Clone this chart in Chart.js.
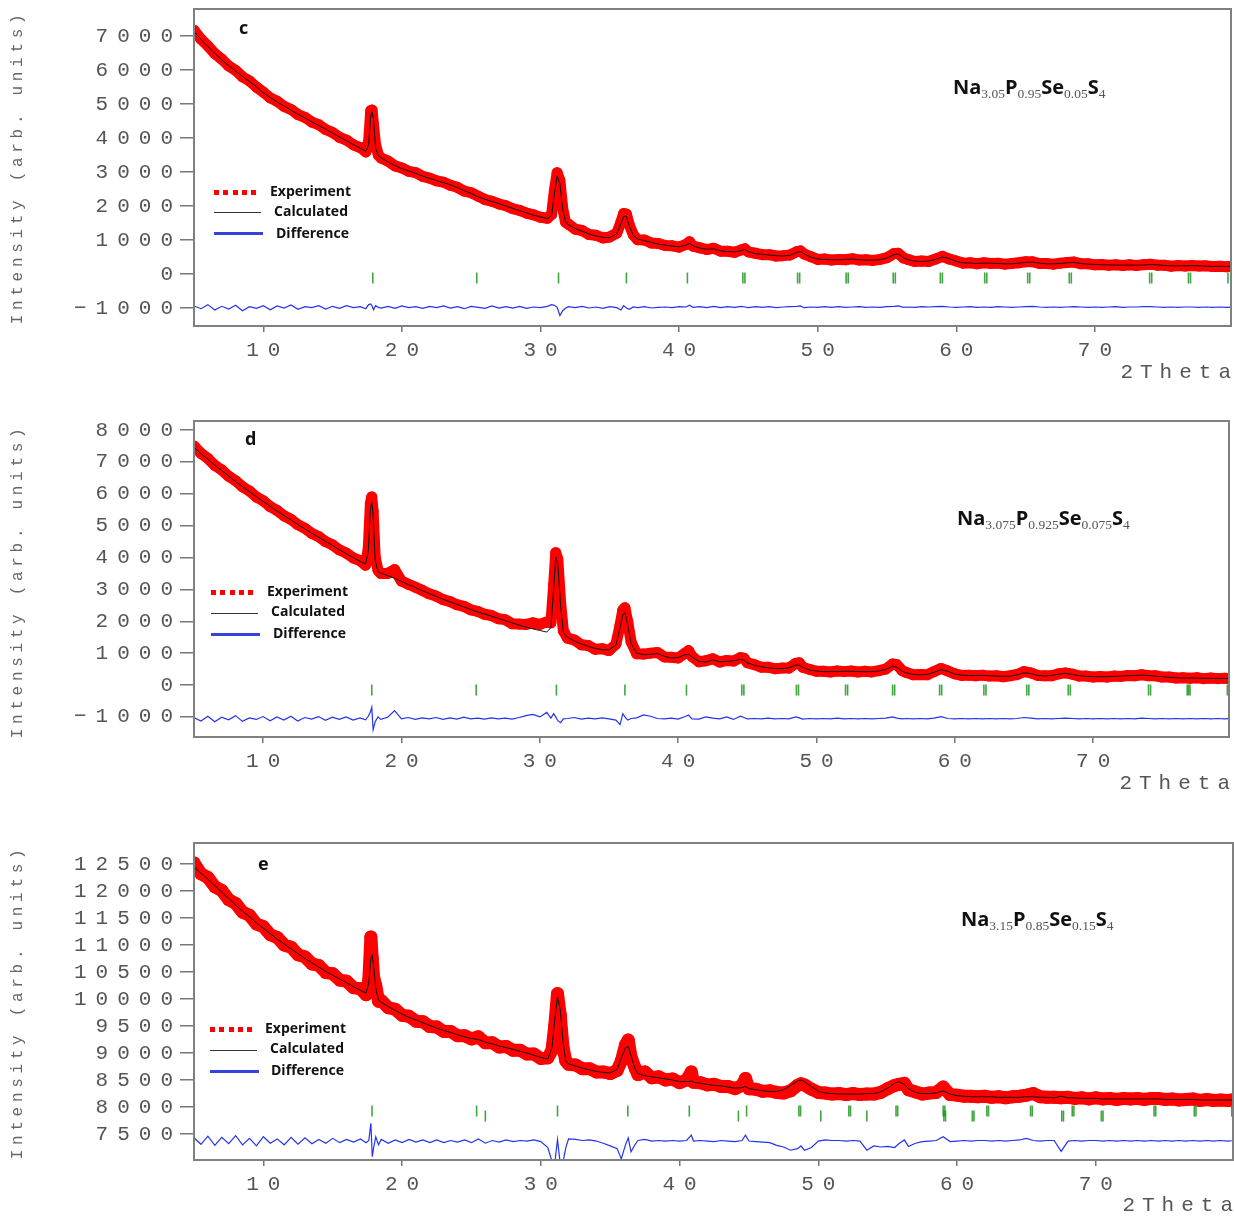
<!DOCTYPE html>
<html><head><meta charset="utf-8">
<script src="https://cdn.jsdelivr.net/npm/chart.js@4.4.1/dist/chart.umd.min.js"></script>
<style>
body{margin:0;background:#fff;width:1234px;height:1217px;position:relative;overflow:hidden}
canvas{position:absolute;left:0}
.a{position:absolute;white-space:nowrap}
.leg{font:bold 14px "Open Sans";color:#111;height:20px;line-height:20px}
.let{font:bold 18px "Open Sans";color:#111;height:24px;line-height:24px}
.frm{font:bold 20px "Open Sans";color:#111;height:26px;line-height:26px}
.frm sub{font:13.5px "Liberation Serif";color:#555;vertical-align:-4px;font-weight:normal}
.yt{font:16px "Liberation Mono";color:#666;letter-spacing:4.7px;transform:translate(-50%,-50%) rotate(-90deg);height:20px;line-height:20px}
.xt{font:21px "Liberation Mono";color:#555;letter-spacing:7px;height:26px;line-height:26px;text-align:right;width:200px}
.dots{height:5px;background:repeating-linear-gradient(90deg,#f00 0 5px,transparent 5px 9.3px)}
.cl{height:1px;background:#333}
.dl{height:3px;background:#3344dd}
</style></head><body>
<canvas id="cc" width="1234" height="390" style="top:0"></canvas>
<canvas id="cd" width="1234" height="390" style="top:410px"></canvas>
<canvas id="ce" width="1234" height="385" style="top:832px"></canvas>

<div class="a yt" style="left:18px;top:167px">Intensity (arb. units)</div>
<div class="a yt" style="left:18px;top:581px">Intensity (arb. units)</div>
<div class="a yt" style="left:18px;top:1002px">Intensity (arb. units)</div>
<div class="a xt" style="left:1038px;top:360px">2Theta</div>
<div class="a xt" style="left:1037px;top:771px">2Theta</div>
<div class="a xt" style="left:1040px;top:1193px">2Theta</div>

<div class="a let" style="left:239px;top:15px">c</div>
<div class="a let" style="left:245px;top:426px">d</div>
<div class="a let" style="left:258px;top:851px">e</div>

<div class="a frm" style="left:953px;top:74px">Na<sub>3.05</sub>P<sub>0.95</sub>Se<sub>0.05</sub>S<sub>4</sub></div>
<div class="a frm" style="left:957px;top:505px">Na<sub>3.075</sub>P<sub>0.925</sub>Se<sub>0.075</sub>S<sub>4</sub></div>
<div class="a frm" style="left:961px;top:906px">Na<sub>3.15</sub>P<sub>0.85</sub>Se<sub>0.15</sub>S<sub>4</sub></div>

<div class="a dots" style="left:214px;top:190px;width:44px"></div>
<div class="a leg" style="left:270px;top:181px">Experiment</div>
<div class="a cl" style="left:214px;top:212px;width:47px"></div>
<div class="a leg" style="left:274px;top:201px">Calculated</div>
<div class="a dl" style="left:214px;top:232px;width:49px"></div>
<div class="a leg" style="left:276px;top:223px">Difference</div>

<div class="a dots" style="left:211px;top:590px;width:44px"></div>
<div class="a leg" style="left:267px;top:581px">Experiment</div>
<div class="a cl" style="left:211px;top:613px;width:47px"></div>
<div class="a leg" style="left:271px;top:601px">Calculated</div>
<div class="a dl" style="left:211px;top:633px;width:49px"></div>
<div class="a leg" style="left:273px;top:623px">Difference</div>

<div class="a dots" style="left:210px;top:1027px;width:44px"></div>
<div class="a leg" style="left:265px;top:1018px">Experiment</div>
<div class="a cl" style="left:210px;top:1050px;width:47px"></div>
<div class="a leg" style="left:270px;top:1038px">Calculated</div>
<div class="a dl" style="left:210px;top:1070px;width:49px"></div>
<div class="a leg" style="left:271px;top:1060px">Difference</div>

<script>
// ---------- Panel c : Na3.05P0.95Se0.05S4 ----------
const cTheta = [
5,5.5,6,6.5,7,7.5,8,8.5,9,9.5,
10,10.5,11,11.5,12,12.5,13,13.5,14,14.5,
15,15.5,16,16.5,17,17.4,17.6,17.75,17.85,17.95,
18.1,18.3,18.5,19,19.5,20,20.5,21,21.5,22,
22.5,23,23.5,24,24.5,25,25.5,26,26.5,27,
27.5,28,28.5,29,29.5,30,30.5,30.8,31,31.2,
31.4,31.6,31.8,32,32.5,33,33.5,34,34.5,35,
35.5,35.8,36,36.2,36.4,36.7,37,37.5,38,38.5,
39,39.5,40,40.5,40.75,41,41.5,42,42.5,43,
43.5,44,44.5,44.75,45,45.5,46,46.5,47,47.5,
48,48.5,48.75,49,49.5,50,50.5,51,51.5,52,
52.5,53,53.5,54,54.5,55,55.5,55.8,56.2,56.5,
57,57.5,58,58.5,59,59.5,60,60.5,61,61.5,
62,62.5,63,63.5,64,64.5,65,65.5,66,66.5,
67,67.5,68,68.5,69,69.5,70,70.5,71,71.5,
72,72.5,73,73.5,74,74.5,75,75.5,76,76.5,
77,77.5,78,78.5,79,79.5,79.8];
const cObs = [
7170,6910,6710,6480,6320,6120,5990,5800,5680,5500,
5350,5180,5080,4930,4840,4690,4610,4470,4390,4250,
4160,4020,3940,3800,3720,3590,3900,4800,4820,4400,
3800,3500,3410,3320,3180,3120,3020,2980,2870,2820,
2740,2700,2610,2550,2440,2390,2290,2190,2140,2060,
2010,1920,1870,1790,1740,1670,1640,1750,2450,2980,
2750,1950,1530,1470,1320,1280,1160,1140,1060,1090,
1200,1520,1780,1760,1450,1150,1010,1000,910,900,
840,830,790,870,950,820,770,720,760,670,
670,640,710,740,650,610,570,570,530,540,
560,660,680,590,510,430,440,410,430,420,
450,410,420,400,430,480,600,610,470,430,
370,380,370,440,520,440,380,320,330,300,
330,310,320,290,310,330,360,360,310,310,
290,320,340,350,300,300,270,280,260,270,
250,270,250,275,290,260,260,230,250,235,
250,235,240,220,230,215,225];
const cCalc = [
7130,6900,6690,6490,6300,6130,5970,5810,5660,5510,
5330,5190,5060,4940,4820,4700,4590,4480,4370,4260,
4140,4030,3920,3810,3700,3610,3800,4650,4770,4550,
3700,3480,3420,3300,3190,3100,3030,2960,2880,2810,
2750,2690,2620,2540,2450,2370,2270,2200,2130,2070,
2000,1930,1860,1800,1730,1680,1630,1720,2350,2880,
2650,1900,1560,1450,1340,1260,1180,1120,1080,1070,
1180,1480,1690,1700,1420,1130,1030,980,930,880,
850,820,800,850,900,830,760,730,740,680,
660,650,690,720,660,600,580,560,540,530,
550,640,660,600,500,440,430,420,420,430,
440,420,410,410,420,470,570,590,480,420,
380,370,380,430,500,450,370,330,320,310,
320,320,310,300,300,320,340,350,320,300,
300,310,330,340,310,290,280,270,270,260,
260,260,260,265,280,270,250,240,240,240,
245,240,230,225,225,220,220];
const cDiff = [
-940,-1020,-900,-1060,-950,-1030,-920,-1080,-960,-1010,
-930,-1050,-940,-1000,-910,-1040,-960,-990,-930,-1030,
-950,-1010,-930,-990,-960,-1020,-900,-880,-940,-1050,
-930,-980,-1000,-950,-1010,-940,-990,-960,-1010,-950,
-990,-940,-1000,-960,-1020,-950,-980,-1010,-940,-1000,
-960,-1000,-950,-1010,-970,-990,-950,-900,-920,-980,
-1220,-1080,-1010,-960,-990,-950,-1000,-970,-1010,-960,
-990,-1060,-930,-1000,-1040,-970,-990,-960,-1000,-980,
-970,-990,-960,-970,-920,-980,-960,-990,-950,-990,
-960,-980,-950,-970,-990,-960,-980,-960,-990,-970,
-960,-950,-940,-990,-970,-980,-960,-980,-960,-980,
-970,-960,-980,-970,-980,-960,-950,-940,-980,-970,
-980,-960,-970,-960,-950,-970,-980,-970,-960,-980,
-970,-980,-960,-970,-980,-970,-960,-950,-970,-980,
-970,-980,-970,-960,-970,-980,-970,-980,-970,-960,
-980,-970,-970,-960,-960,-970,-980,-970,-980,-970,
-970,-980,-970,-980,-970,-980,-975];
const cHkl = [17.9,25.4,31.3,36.2,40.6,44.6,44.75,48.55,48.7,52.05,52.2,55.45,55.6,58.85,59.0,
62.05,62.2,65.15,65.3,68.15,68.3,73.95,74.1,76.75,76.9,79.6];
const cYTicks = [-1000,0,1000,2000,3000,4000,5000,6000,7000];

// ---------- Panel d : Na3.075P0.925Se0.075S4 ----------
const dTheta = [
5,5.5,6,6.5,7,7.5,8,8.5,9,9.5,
10,10.5,11,11.5,12,12.5,13,13.5,14,14.5,
15,15.5,16,16.5,17,17.4,17.6,17.75,17.85,17.95,
18.1,18.3,18.5,19,19.5,20,20.5,21,21.5,22,
22.5,23,23.5,24,24.5,25,25.5,26,26.5,27,
27.5,28,28.5,29,29.5,30,30.5,30.8,31,31.15,
31.3,31.5,31.7,32,32.5,33,33.5,34,34.5,35,
35.5,35.8,36,36.15,36.35,36.6,37,37.5,38,38.5,
39,39.5,40,40.5,40.75,41,41.5,42,42.5,43,
43.5,44,44.5,44.75,45,45.5,46,46.5,47,47.5,
48,48.5,48.75,49,49.5,50,50.5,51,51.5,52,
52.5,53,53.5,54,54.5,55,55.5,55.8,56.2,56.5,
57,57.5,58,58.5,59,59.5,60,60.5,61,61.5,
62,62.5,63,63.5,64,64.5,65,65.5,66,66.5,
67,67.5,68,68.5,69,69.5,70,70.5,71,71.5,
72,72.5,73,73.5,74,74.5,75,75.5,76,76.5,
77,77.5,78,78.5,79,79.5,79.8];
const dObs = [
7500,7270,7110,6890,6750,6550,6410,6220,6090,5900,
5780,5600,5480,5310,5200,5030,4920,4760,4660,4500,
4400,4240,4140,3990,3900,3760,4300,5700,5900,5450,
4000,3600,3500,3500,3620,3260,3160,3070,2970,2860,
2790,2680,2620,2520,2470,2360,2310,2220,2180,2080,
2050,1920,1910,1900,1950,1900,1980,1950,3150,4150,
3950,2600,1700,1470,1410,1260,1240,1120,1140,1080,
1280,1880,2350,2420,2000,1350,980,970,1000,1020,
880,870,850,1000,1080,900,730,760,820,720,
770,750,860,840,700,640,560,560,510,530,
530,680,700,560,490,430,430,410,440,420,
440,410,430,410,450,500,660,640,450,390,
320,330,320,420,520,440,350,300,310,290,
310,280,290,260,290,330,420,380,300,290,
290,350,380,340,280,280,250,270,250,280,
270,300,290,320,290,290,250,250,220,230,
210,225,200,220,200,215,200];
const dCalc = [
7450,7260,7080,6900,6730,6560,6390,6230,6070,5910,
5760,5610,5460,5320,5180,5040,4900,4770,4640,4510,
4380,4250,4120,4000,3880,3790,4200,5500,5750,5300,
3900,3560,3510,3430,3350,3250,3150,3060,2960,2870,
2780,2690,2610,2530,2450,2370,2290,2230,2160,2090,
2020,1950,1880,1820,1760,1710,1660,1800,3000,4020,
3800,2500,1650,1500,1380,1290,1210,1150,1110,1100,
1250,1800,2200,2270,1900,1300,1000,950,960,990,
900,850,860,950,960,880,740,720,790,730,
740,760,800,780,700,620,570,540,520,510,
540,630,620,560,470,440,420,420,420,430,
430,420,420,420,440,490,590,560,430,380,
330,320,330,400,480,430,340,310,300,300,
300,290,280,270,280,320,380,360,300,280,
300,340,370,330,290,270,260,260,260,270,
280,290,300,310,300,280,260,240,230,220,
220,215,210,210,210,205,205];
const dDiff = [
-1020,-1130,-980,-1150,-1010,-1090,-960,-1140,-1030,-1080,
-990,-1120,-1000,-1100,-980,-1130,-1020,-1070,-990,-1110,
-1010,-1080,-1000,-1100,-1030,-1090,-980,-850,-700,-1400,
-1150,-1000,-1080,-1010,-800,-1060,-1020,-1080,-1030,-1060,
-1020,-1080,-1030,-1070,-1010,-1060,-1040,-1070,-1030,-1060,
-1040,-1070,-1020,-960,-920,-1000,-860,-1040,-900,-1000,
-1120,-1180,-1060,-1050,-1020,-1070,-1040,-1060,-1030,-1060,
-1100,-1240,-900,-1000,-1100,-1050,-1030,-940,-980,-1050,
-1060,-1040,-1070,-990,-940,-1060,-1070,-1000,-1040,-1060,
-1000,-1080,-980,-1020,-1060,-1050,-1060,-1040,-1060,-1050,
-1060,-1000,-1030,-1070,-1050,-1060,-1050,-1060,-1040,-1060,
-1050,-1060,-1050,-1060,-1050,-1040,-1000,-1040,-1060,-1050,
-1060,-1050,-1060,-1040,-990,-1050,-1060,-1050,-1060,-1050,
-1060,-1050,-1060,-1050,-1060,-1050,-1020,-1040,-1060,-1050,
-1060,-1050,-1040,-1050,-1060,-1050,-1060,-1050,-1060,-1050,
-1060,-1050,-1060,-1040,-1050,-1060,-1050,-1060,-1050,-1060,
-1050,-1060,-1050,-1060,-1050,-1060,-1055];
const dHkl = [17.85,25.4,31.2,36.15,40.6,44.6,44.75,48.55,48.7,52.1,52.25,55.5,55.65,58.9,59.05,
62.1,62.25,65.2,65.35,68.2,68.35,74.0,74.15,76.8,76.9,77.0,79.7];
const dYTicks = [-1000,0,1000,2000,3000,4000,5000,6000,7000,8000];

// ---------- Panel e : Na3.15P0.85Se0.15S4 ----------
const eTheta = [
5,5.5,6,6.5,7,7.5,8,8.5,9,9.5,
10,10.5,11,11.5,12,12.5,13,13.5,14,14.5,
15,15.5,16,16.5,17,17.4,17.6,17.75,17.85,17.95,
18.1,18.3,18.5,19,19.5,20,20.5,21,21.5,22,
22.5,23,23.5,24,24.5,25,25.5,26,26.5,27,
27.5,28,28.5,29,29.5,30,30.5,30.8,31,31.2,
31.4,31.6,31.8,32,32.5,33,33.5,34,34.5,35,
35.5,35.8,36.1,36.3,36.5,36.8,37,37.5,38,38.5,
39,39.5,40,40.5,40.85,41,41.5,42,42.5,43,
43.5,44,44.5,44.75,45,45.5,46,46.5,47,47.5,
48,48.5,48.75,49,49.5,50,50.5,51,51.5,52,
52.5,53,53.5,54,54.5,55,55.5,55.8,56.2,56.5,
57,57.5,58,58.5,59,59.5,60,60.5,61,61.5,
62,62.5,63,63.5,64,64.5,65,65.5,66,66.5,
67,67.5,68,68.5,69,69.5,70,70.5,71,71.5,
72,72.5,73,73.5,74,74.5,75,75.5,76,76.5,
77,77.5,78,78.5,79,79.5,79.8];
const eObs = [
12520,12320,12250,12080,12010,11840,11770,11610,11550,11390,
11340,11190,11140,11000,10960,10820,10780,10650,10620,10490,
10470,10350,10330,10210,10190,10080,10350,11150,10750,10400,
10250,9960,9970,9840,9810,9700,9680,9590,9580,9490,
9480,9400,9400,9320,9320,9260,9300,9190,9190,9110,
9120,9050,9050,8980,8980,8900,8910,9050,9500,10100,
9700,9100,8850,8790,8780,8710,8710,8650,8650,8620,
8680,8850,9150,9240,8930,8720,8600,8650,8540,8560,
8500,8520,8450,8500,8650,8460,8450,8410,8420,8380,
8380,8340,8400,8530,8340,8330,8290,8300,8270,8260,
8300,8400,8430,8410,8330,8270,8260,8240,8250,8230,
8250,8230,8240,8240,8270,8340,8400,8420,8440,8320,
8280,8240,8260,8270,8370,8230,8220,8200,8200,8190,
8200,8180,8190,8170,8190,8200,8220,8250,8190,8180,
8180,8170,8180,8160,8170,8150,8170,8150,8160,8140,
8160,8150,8160,8140,8160,8160,8140,8150,8130,8140,
8150,8120,8140,8120,8130,8120,8130];
const eCalc = [
12450,12330,12220,12100,11980,11860,11740,11630,11520,11410,
11310,11210,11110,11020,10930,10840,10750,10670,10590,10510,
10440,10370,10300,10230,10160,10110,10300,10750,10820,10600,
10200,9980,9940,9860,9790,9720,9660,9610,9560,9510,
9460,9420,9380,9340,9300,9270,9250,9200,9170,9130,
9100,9070,9030,9000,8960,8920,8890,9100,9600,10040,
9800,9200,8850,8800,8760,8720,8690,8660,8640,8630,
8700,8900,9100,9120,8950,8700,8620,8580,8560,8540,
8520,8500,8470,8470,8480,8460,8440,8420,8400,8390,
8370,8350,8360,8380,8340,8320,8300,8290,8290,8320,
8400,8480,8500,8470,8380,8290,8260,8250,8240,8240,
8240,8240,8250,8250,8280,8350,8440,8470,8420,8340,
8270,8250,8250,8260,8300,8240,8210,8200,8190,8190,
8190,8190,8180,8180,8180,8180,8190,8190,8180,8180,
8170,8200,8170,8170,8160,8160,8160,8150,8150,8150,
8150,8150,8150,8150,8150,8150,8140,8140,8140,8140,
8140,8130,8130,8130,8130,8130,8130];
const eDiff = [
7430,7310,7460,7290,7440,7320,7470,7300,7420,7280,
7450,7330,7410,7300,7440,7310,7430,7320,7400,7330,
7420,7340,7400,7350,7410,7340,7380,7700,7080,7250,
7450,7300,7400,7330,7390,7340,7400,7350,7390,7340,
7390,7340,7380,7350,7390,7340,7410,7330,7380,7350,
7390,7360,7380,7370,7390,7360,7250,7000,6950,7400,
6950,6980,7250,7410,7400,7380,7390,7370,7330,7280,
7230,7040,7300,7430,7170,7310,7380,7400,7370,7380,
7370,7380,7370,7380,7480,7370,7380,7370,7360,7380,
7370,7360,7380,7480,7370,7360,7350,7340,7290,7260,
7200,7230,7280,7200,7250,7370,7390,7380,7380,7370,
7380,7370,7200,7280,7260,7270,7250,7320,7390,7270,
7330,7360,7370,7380,7450,7360,7370,7380,7370,7380,
7380,7370,7380,7370,7380,7390,7420,7380,7370,7380,
7380,7180,7370,7380,7370,7380,7380,7370,7380,7370,
7380,7370,7380,7370,7380,7370,7380,7370,7380,7370,
7380,7370,7380,7370,7380,7370,7375];
const eHklA = [17.83,25.37,31.2,36.27,40.7,44.83,48.6,48.72,52.2,52.32,55.6,55.72,59.0,59.12,
62.15,62.27,65.3,65.42,68.3,68.42,74.2,74.32,77.1,77.22,79.8];
const eHklB = [26.0,44.24,50.18,53.5,59.05,59.17,61.1,61.22,67.55,67.67,70.4,70.52];
const eYTicks = [7500,8000,8500,9000,9500,10000,10500,11000,11500,12000,12500];

const xTicks = [10,20,30,40,50,60,70];

// ---------- drawing ----------
const frame = {
  id: 'frame',
  beforeDraw(chart) { chart.ctx.letterSpacing = '9px'; },
  afterDraw(chart) {
    const {ctx, chartArea: a} = chart;
    ctx.save();
    ctx.strokeStyle = '#808080';
    ctx.lineWidth = 2;
    ctx.strokeRect(a.left, a.top, a.right - a.left, a.bottom - a.top);
    ctx.restore();
  }
};

function pts(xs, ys) { return xs.map((x, i) => ({x: x, y: ys[i]})); }
function tickPts(xs, y) { return xs.map(x => ({x: x, y: y})); }

function makeChart(id, p) {
  const tickFont = {family: 'Liberation Mono', size: 21};
  const hklSets = p.hkl.map(h => ({
    data: tickPts(h.x, h.y), showLine: false, pointStyle: 'line', rotation: 90,
    pointRadius: 5.5, pointBorderWidth: 1.6, pointBorderColor: 'rgba(30,150,30,0.85)',
    pointBackgroundColor: 'rgba(30,150,30,0.85)'
  }));
  new Chart(document.getElementById(id), {
    type: 'scatter',
    data: {
      datasets: [
        {label: 'Calculated', data: pts(p.t, p.calc), showLine: true, borderColor: '#111',
         borderWidth: 1, pointRadius: 0, tension: 0},
        {label: 'Difference', data: pts(p.t, p.diff), showLine: true, borderColor: '#2233ee',
         borderWidth: 1.2, pointRadius: 0, tension: 0},
        ...hklSets,
        {label: 'Experiment', data: pts(p.t, p.obs), showLine: true, borderColor: '#ff0000',
         borderWidth: p.band, borderJoinStyle: 'round', borderCapStyle: 'round',
         pointRadius: p.band / 2, pointBackgroundColor: '#ff0000', pointBorderWidth: 0, tension: 0}
      ]
    },
    options: {
      responsive: false, animation: false, devicePixelRatio: 1,
      layout: {autoPadding: false, padding: {left: 0, right: p.padR, top: p.padT, bottom: 0}},
      plugins: {legend: {display: false}, tooltip: {enabled: false}},
      scales: {
        x: {
          type: 'linear', min: 5, max: p.xMax,
          afterBuildTicks: s => { s.ticks = xTicks.map(v => ({value: v})); },
          afterFit: s => { s.height = p.xh; s.paddingLeft = 0; s.paddingRight = 0; },
          ticks: {font: tickFont, color: '#555', padding: 6, maxRotation: 0, autoSkip: false,
                  labelOffset: 4.5, callback: v => String(v)},
          grid: {drawOnChartArea: false, tickLength: 6, color: '#777', lineWidth: 1.5},
          border: {display: false}
        },
        y: {
          type: 'linear', min: p.yMin, max: p.yMax,
          afterBuildTicks: s => { s.ticks = p.yTicks.map(v => ({value: v})); },
          afterFit: s => { s.width = 194; s.paddingTop = 0; s.paddingBottom = 0; },
          ticks: {font: tickFont, color: '#555', padding: -2, autoSkip: false,
                  callback: v => v < 0 ? '\u2212' + Math.abs(v) : String(v)},
          grid: {drawOnChartArea: false, tickLength: 14, color: '#777', lineWidth: 1.5},
          border: {display: false}
        }
      }
    },
    plugins: [frame]
  });
}

makeChart('cc', {t: cTheta, obs: cObs, calc: cCalc, diff: cDiff,
  hkl: [{x: cHkl, y: -118}], yTicks: cYTicks, yMin: -1529, yMax: 7794,
  xMax: 79.82, padT: 9, padR: 3, xh: 64, band: 11});
makeChart('cd', {t: dTheta, obs: dObs, calc: dCalc, diff: dDiff,
  hkl: [{x: dHkl, y: -157}], yTicks: dYTicks, yMin: -1631, yMax: 8282,
  xMax: 79.82, padT: 11, padR: 5, xh: 63, band: 11});
makeChart('ce', {t: eTheta, obs: eObs, calc: eCalc, diff: eDiff,
  hkl: [{x: eHklA, y: 7926}, {x: eHklB, y: 7833}], yTicks: eYTicks, yMin: 7019, yMax: 12889,
  xMax: 79.89, padT: 11, padR: 1, xh: 57, band: 13});
</script>
</body></html>
